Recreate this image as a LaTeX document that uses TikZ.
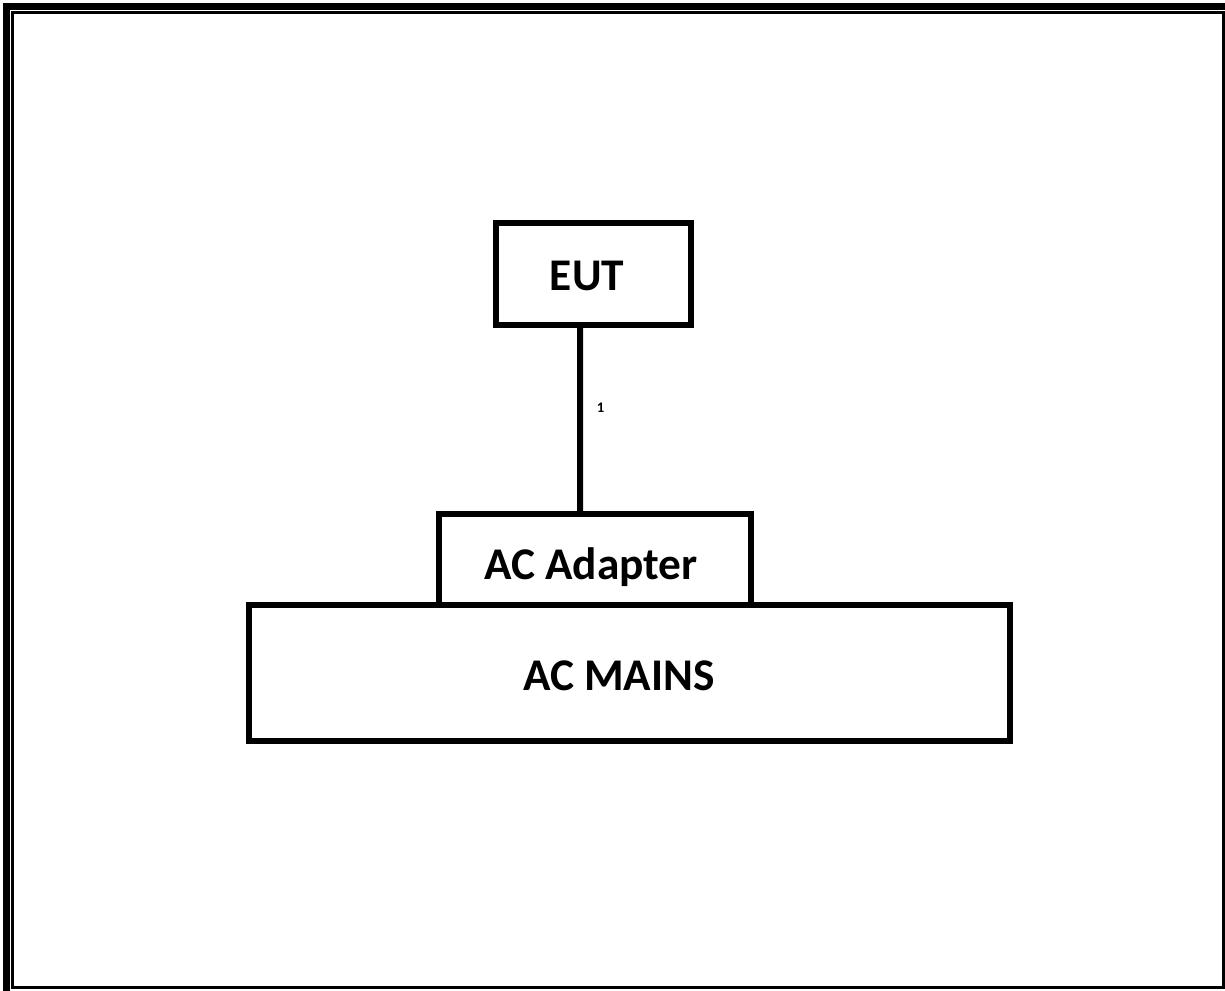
\documentclass[tikz,border=0pt]{standalone}
\usepackage{fontspec}
\setmainfont{Carlito}
\usepackage{tikz}

\tikzset{
  unitbox/.style={draw, line width=4.5pt, outer sep=0pt, inner sep=0pt},
  unittext/.style={font=\fontsize{34}{40}\selectfont\bfseries, inner sep=0pt},
}

\begin{document}
\begin{tikzpicture}[x=0.75pt,y=-0.75pt]
  \clip (0,0) rectangle (1225,991);
  \useasboundingbox (0,0) rectangle (1225,991);
  % frame
  \draw [line width=5.25pt] (6.5,1000) -- (6.5,6.5) -- (1240,6.5);
  \draw [line width=2.25pt] (12.5,12.5) rectangle (1223.5,987.5);
  % boxes
  \node [unitbox, minimum width=146.25pt, minimum height=76.5pt] (eut) at (593.5,274) {};
  \node [unitbox, minimum width=234pt, minimum height=68.25pt] (adapter) at (595,559.5) {};
  \node [unitbox, minimum width=570.75pt, minimum height=102pt] (mains) at (629.5,673) {};
  % texts
  \node [unittext] (euttext) at ([xshift=-4.9pt,yshift=-1.5pt]eut.center) {EUT};
  \node [unittext] (adaptertext) at ([xshift=-3pt,yshift=-6pt]adapter.center) {AC Adapter};
  \node [unittext] (mainstext) at ([xshift=-7.9pt,yshift=-2.25pt]mains.center) {AC MAINS};
  % cable
  \draw [line width=4.5pt] ([xshift=-10pt]eut.south) -- node [pos=0.44, right=7pt, font=\fontsize{11}{13}\selectfont\bfseries] (cable) {1} ([xshift=-11.25pt]adapter.north);
\end{tikzpicture}
\end{document}
